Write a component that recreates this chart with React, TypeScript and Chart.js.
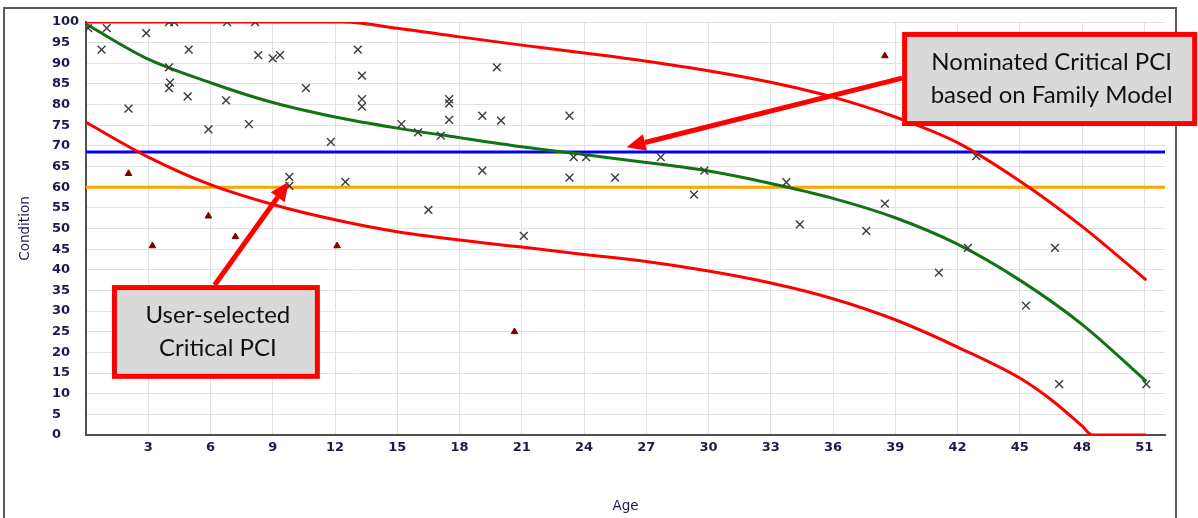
import React, { useEffect, useRef } from 'react';
import { Chart, registerables } from 'chart.js';

Chart.register(...registerables);

// ---------- data ----------
const xTickValues = [3, 6, 9, 12, 15, 18, 21, 24, 27, 30, 33, 36, 39, 42, 45, 48, 51];
const yTickStep = 5;

const meanAges = [0, 3, 6, 9, 12, 15, 18, 21, 24, 27, 30, 33, 36, 39, 42, 45, 48, 51.1];
const meanCondition = [99.5, 91, 85.3, 80.5, 77, 74.3, 72, 69.8, 67.9, 66.0, 63.9, 60.9, 57.3, 52.6, 46.2, 37.5, 26.8, 13];

const upperAges = [0, 6, 12.4, 15, 18, 21, 24, 27, 30, 33, 36, 39, 42, 45, 48, 51.1];
const upperCondition = [100, 100, 100, 98.5, 96.4, 94.4, 92.5, 90.5, 88.2, 85.4, 81.8, 77, 70.8, 61.5, 50.5, 37.5];

const lowerAges = [0, 3, 6, 9, 12, 15, 18, 21, 24, 27, 30, 33, 36, 39, 42, 45, 46.5, 48, 48.5, 51.1];
const lowerCondition = [75.7, 67.3, 60.6, 55.8, 52.1, 49.2, 47.2, 45.5, 43.7, 42, 39.7, 36.8, 33.0, 27.9, 21.3, 13.8, 8.6, 2.2, 0, 0];

const levelAges = [0, 52];
const nominatedCriticalPCI = 68.5;
const userCriticalPCI = 60;

const obsAges = [
  0.1, 1.0, 0.75, 2.9, 2.05, 4.0, 4.25, 6.8, 8.15, 4.95, 4.0, 4.05, 4.0, 4.9, 5.9, 6.75, 7.85, 8.3, 9.0, 9.35,
  9.8, 9.8, 10.6, 13.1, 13.3, 13.3, 13.3, 11.8, 12.5, 15.2, 16.0, 17.1, 17.5, 17.5, 17.5, 19.1, 20.0, 19.8, 19.1, 16.5,
  21.1, 23.3, 23.5, 24.1, 23.3, 25.5, 27.7, 29.8, 29.3, 33.75, 38.5, 34.4, 37.6, 42.9, 42.5, 41.1, 46.7, 45.3, 46.9, 51.1,
];
const obsCondition = [
  98.5, 98.5, 93.3, 97.3, 79, 100, 100, 100, 100, 93.3, 89, 85.3, 84, 82, 74, 81, 75.3, 92, 91.2, 92,
  62.5, 60.3, 84, 93.3, 87, 81.3, 79.5, 71, 61.3, 75.3, 73.3, 72.5, 81.3, 80.3, 76.3, 77.3, 76.1, 89, 64, 54.5,
  48.2, 77.3, 67.3, 67.3, 62.3, 62.3, 67.3, 64, 58.2, 61.2, 56, 51, 49.4, 67.5, 45.3, 39.3, 45.3, 31.3, 12.3, 12.3,
];

const flagAges = [2.05, 3.2, 5.9, 7.2, 12.1, 20.65, 38.5];
const flagCondition = [63.3, 45.8, 53, 48, 45.8, 25, 91.8];

// callouts (data coordinates)
const calloutTexts = [
  ['Nominated Critical PCI', 'based on Family Model'],
  ['User-selected', 'Critical PCI'],
];
const calloutBoxes = [
  [39.33, 97.6, 53.55, 74.8],
  [1.25, 36.3, 11.27, 13.6],
];
const calloutFrom = [
  [39.33, 86.4],
  [6.2, 36.3],
];
const calloutTo = [
  [26.05, 69.7],
  [9.77, 61.3],
];

// ---------- helpers ----------
const pts = (xs: number[], ys: number[]) => xs.map((x, i) => ({ x, y: ys[i] }));

const TICK_COLOR = '#1b1b4b';
const GRID_COLOR = '#e2e2e2';
const AXIS_COLOR = '#505050';
const FONT = 'DejaVu Sans';

const framePlugin = {
  id: 'frame',
  beforeDraw(chart: any) {
    const { ctx } = chart;
    ctx.save();
    ctx.fillStyle = '#ffffff';
    ctx.fillRect(0, 0, chart.width, chart.height);
    ctx.strokeStyle = '#5a5a5a';
    ctx.lineWidth = 2;
    ctx.strokeRect(4, 8, 1172, 560);
    ctx.restore();
  },
};

const calloutPlugin = {
  id: 'callouts',
  afterDraw(chart: any) {
    const { ctx } = chart;
    const xs = chart.scales.x;
    const ys = chart.scales.y;
    ctx.save();
    for (let i = 0; i < calloutTexts.length; i++) {
      const fx = xs.getPixelForValue(calloutFrom[i][0]);
      const fy = ys.getPixelForValue(calloutFrom[i][1]);
      const tx = xs.getPixelForValue(calloutTo[i][0]);
      const ty = ys.getPixelForValue(calloutTo[i][1]);
      const ang = Math.atan2(ty - fy, tx - fx);
      const headLen = 19;
      const headW = 8.5;
      const bx = tx - headLen * Math.cos(ang);
      const by = ty - headLen * Math.sin(ang);
      ctx.strokeStyle = '#ff0000';
      ctx.fillStyle = '#ff0000';
      ctx.lineWidth = 5;
      ctx.beginPath();
      ctx.moveTo(fx, fy);
      ctx.lineTo(bx, by);
      ctx.stroke();
      ctx.beginPath();
      ctx.moveTo(tx, ty);
      ctx.lineTo(bx + headW * Math.sin(ang), by - headW * Math.cos(ang));
      ctx.lineTo(bx - headW * Math.sin(ang), by + headW * Math.cos(ang));
      ctx.closePath();
      ctx.fill();

      const [x0, y0, x1, y1] = calloutBoxes[i];
      const l = xs.getPixelForValue(x0);
      const t = ys.getPixelForValue(y0);
      const r = xs.getPixelForValue(x1);
      const b = ys.getPixelForValue(y1);
      ctx.fillStyle = '#ff0000';
      ctx.fillRect(l, t, r - l, b - t);
      ctx.fillStyle = '#d9d9d9';
      ctx.fillRect(l + 5, t + 5, r - l - 10, b - t - 10);
      ctx.fillStyle = '#111111';
      ctx.font = '24px Lato';
      ctx.textAlign = 'center';
      ctx.textBaseline = 'middle';
      const lines = calloutTexts[i];
      const cx = (l + r) / 2 + 2;
      const cy = (t + b) / 2;
      const gap = 33.5;
      lines.forEach((s, k) => ctx.fillText(s, cx, cy + (k - (lines.length - 1) / 2) * gap));
    }
    ctx.restore();
  },
};

export default function App() {
  const ref = useRef<HTMLCanvasElement>(null);

  useEffect(() => {
    if (!ref.current) return;
    Chart.defaults.font.family = FONT;
    const lineDs = (label: string, data: any[], color: string) => ({
      label,
      data,
      showLine: true,
      borderColor: color,
      backgroundColor: color,
      borderWidth: 3,
      pointRadius: 0,
      tension: 0.4,
      cubicInterpolationMode: 'monotone' as const,
      clip: 0,
    });
    const chart = new Chart(ref.current, {
      type: 'scatter',
      data: {
        datasets: [
          {
            label: 'Observed',
            data: pts(obsAges, obsCondition),
            pointStyle: 'crossRot',
            pointRadius: 5.5,
            borderColor: '#3a3a3a',
            backgroundColor: '#3a3a3a',
            pointBorderWidth: 1.4,
            clip: 0,
          } as any,
          {
            label: 'Flagged',
            data: pts(flagAges, flagCondition),
            pointStyle: 'triangle',
            pointRadius: 3.8,
            borderColor: '#7a0000',
            backgroundColor: '#7a0000',
            pointBorderWidth: 1,
            clip: 0,
          } as any,
          lineDs('Upper', pts(upperAges, upperCondition), '#ff0000'),
          lineDs('Lower', pts(lowerAges, lowerCondition), '#ff0000'),
          lineDs('Mean', pts(meanAges, meanCondition), '#127312'),
          lineDs('Nominated', pts(levelAges, levelAges.map(() => nominatedCriticalPCI)), '#0000ff'),
          lineDs('User', pts(levelAges, levelAges.map(() => userCriticalPCI)), '#ffa500'),
        ],
      },
      options: {
        responsive: false,
        devicePixelRatio: 1,
        animation: false,
        layout: { padding: { left: 0, top: 22, right: 33, bottom: 0 } },
        plugins: { legend: { display: false }, tooltip: { enabled: false } },
        scales: {
          x: {
            type: 'linear',
            min: 0,
            max: 52,
            afterBuildTicks: (scale: any) => {
              scale.ticks = xTickValues.map((v) => ({ value: v }));
            },
            afterFit: (scale: any) => {
              scale.height = 83;
            },
            grid: { color: GRID_COLOR, drawTicks: false, lineWidth: 1 },
            border: { display: true, color: AXIS_COLOR, width: 2 },
            ticks: {
              autoSkip: false,
              maxRotation: 0,
              padding: 5,
              color: TICK_COLOR,
              font: { family: FONT, size: 13, weight: 'bold' },
            },
            title: {
              display: true,
              text: 'Age',
              color: TICK_COLOR,
              font: { family: FONT, size: 13.5 },
              padding: { top: 0, bottom: 3 },
            },
          },
          y: {
            type: 'linear',
            position: 'left',
            min: 0,
            max: 100,
            weight: 0,
            afterFit: (scale: any) => {
              scale.width = 34;
            },
            grid: { color: GRID_COLOR, drawTicks: false, lineWidth: 1 },
            border: { display: true, color: AXIS_COLOR, width: 2 },
            ticks: {
              stepSize: yTickStep,
              crossAlign: 'far',
              padding: 4,
              color: TICK_COLOR,
              font: { family: FONT, size: 13, weight: 'bold' },
            },
          },
          yTitle: {
            type: 'linear',
            position: 'left',
            min: 0,
            max: 1,
            weight: 1,
            afterFit: (scale: any) => {
              scale.width = 52;
            },
            grid: { display: false },
            border: { display: false },
            ticks: { display: false },
            title: {
              display: true,
              text: 'Condition',
              color: TICK_COLOR,
              font: { family: FONT, size: 13.5 },
              padding: { top: 17, bottom: 0 },
            },
          },
        },
      } as any,
      plugins: [framePlugin, calloutPlugin],
    });
    return () => chart.destroy();
  }, []);

  return (
    <div style={{ position: 'absolute', left: 0, top: 0, width: 1198, height: 518, background: '#fff' }}>
      <canvas ref={ref} width={1198} height={518} style={{ display: 'block' }} />
    </div>
  );
}
